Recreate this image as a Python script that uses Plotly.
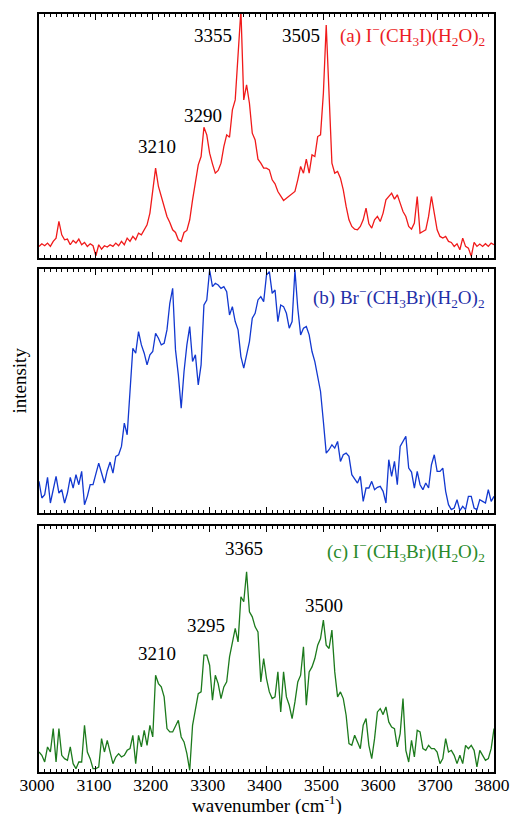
import plotly.graph_objects as go

wavenumber = list(range(3000, 3801, 5))

# (a) I-(CH3I)(H2O)2  intensity, arbitrary units
int_a = [35, 43, 37, 45, 35, 50, 60, 110, 70, 55, 57, 40, 53, 45, 57, 40, 47, 35, 43, 37,
         7, 40, 27, 37, 33, 40, 35, 45, 37, 50, 40, 60, 50, 65, 55, 75, 70, 85, 100, 135,
         195, 270, 215, 185, 155, 125, 107, 85, 77, 55, 50, 77, 83, 115, 175, 230, 280, 305, 393, 370,
         315, 283, 255, 263, 285, 335, 370, 363, 445, 475, 625, 745, 475, 520, 465, 375, 355, 297, 285, 270,
         270, 265, 235, 223, 200, 185, 173, 180, 187, 193, 200, 235, 275, 255, 297, 255, 310, 305, 365, 370,
         495, 700, 485, 285, 255, 260, 240, 205, 155, 115, 95, 87, 85, 95, 115, 150, 103, 90, 115, 125,
         110, 135, 175, 185, 195, 177, 190, 165, 140, 125, 95, 87, 105, 185, 75, 80, 85, 125, 185, 135,
         85, 65, 60, 65, 50, 47, 35, 43, 25, 60, 35, 30, 5, 47, 35, 42, 35, 43, 35, 45,
         40]

# (b) Br-(CH3Br)(H2O)2
int_b = [95, 45, 55, 107, 30, 75, 110, 60, 70, 30, 60, 107, 75, 115, 85, 125, 25, 50, 85, 85,
         115, 150, 120, 90, 127, 153, 120, 170, 175, 200, 270, 235, 365, 495, 480, 545, 505, 480, 445, 475,
         485, 540, 525, 505, 510, 550, 630, 675, 490, 415, 315, 425, 505, 560, 455, 475, 385, 445, 625, 640,
         730, 680, 690, 685, 675, 680, 665, 595, 620, 575, 550, 470, 435, 475, 515, 585, 600, 640, 650, 635,
         715, 725, 660, 670, 575, 625, 620, 600, 555, 575, 730, 615, 535, 555, 560, 535, 485, 455, 410, 365,
         275, 180, 190, 205, 195, 215, 155, 175, 180, 170, 115, 103, 90, 110, 35, 75, 75, 95, 70, 77,
         80, 65, 30, 160, 110, 155, 85, 200, 215, 230, 135, 123, 75, 125, 85, 70, 90, 75, 145, 175,
         125, 125, 135, 65, 25, 10, 15, 40, 7, 20, 10, 50, 50, 15, 10, 40, 35, 30, 70, 35,
         50]

# (c) I-(CH3Br)(H2O)2
int_c = [60, 50, 30, 75, 60, 130, 30, 130, 50, 40, 35, 75, 25, 10, 30, 30, 140, 60, 40, 10,
         10, 15, 100, 60, 95, 55, 25, 45, 55, 45, 50, 65, 70, 110, 25, 110, 75, 125, 80, 140,
         105, 290, 265, 255, 225, 130, 120, 120, 140, 155, 105, 90, 55, 5, 140, 192, 235, 240, 350, 350,
         320, 215, 290, 265, 220, 255, 270, 345, 390, 430, 390, 525, 510, 600, 480, 465, 435, 420, 270, 340,
         280, 240, 220, 225, 300, 180, 300, 225, 200, 160, 210, 270, 290, 375, 200, 300, 315, 340, 380, 400,
         455, 380, 370, 425, 300, 225, 240, 220, 170, 85, 80, 110, 90, 70, 140, 160, 80, 40, 100, 180,
         190, 172, 195, 150, 135, 130, 75, 115, 220, 65, 30, 95, 45, 125, 120, 70, 65, 80, 70, 70,
         60, 25, 40, 100, 60, 65, 50, 25, 50, 25, 80, 70, 80, 65, 15, 65, 50, 35, 40, 70,
         130]

peak_labels_a = ["3210", "3290", "3355", "3505"]
peak_pos_a = [(3207, 335), (3289, 427), (3306, 667), (3461, 667)]
peak_labels_c = ["3210", "3295", "3365", "3500"]
peak_pos_c = [(3207, 355), (3293, 440), (3360, 670), (3501, 500)]

series_names = ["(a) I<sup>−</sup>(CH<sub>3</sub>I)(H<sub>2</sub>O)<sub>2</sub>",
                "(b) Br<sup>−</sup>(CH<sub>3</sub>Br)(H<sub>2</sub>O)<sub>2</sub>",
                "(c) I<sup>−</sup>(CH<sub>3</sub>Br)(H<sub>2</sub>O)<sub>2</sub>"]
line_colors = ["#f01a1a", "#1238d0", "#1c7a1c"]
label_colors = ["#ec1c24", "#1f2fa8", "#2a8a2a"]
y_max = [733, 733, 737]
name_y = [667, 647, 662]

FONT = "Liberation Serif, Times New Roman, serif"

fig = go.Figure()
series = [int_a, int_b, int_c]
domains = [[0.678, 1.0], [0.3417, 0.6636], [0.0, 0.3245]]

for i in range(3):
    n = "" if i == 0 else str(i + 1)
    fig.add_trace(go.Scatter(x=wavenumber, y=series[i], mode="lines",
                             line=dict(color=line_colors[i], width=1.3),
                             xaxis="x" + n, yaxis="y" + n, showlegend=False,
                             hoverinfo="skip"))
    fig.update_layout(**{
        "xaxis" + n: dict(domain=[0, 1], anchor="y" + n, range=[3000, 3800],
                          showline=True, linecolor="black", linewidth=1.6, mirror="allticks",
                          ticks="inside", ticklen=6, tickwidth=1.2, tickcolor="black",
                          dtick=100, tick0=3000, showgrid=False, zeroline=False,
                          showticklabels=(i == 2), automargin=False,
                          ticklabeloverflow="allow", ticklabelshift=-2,
                          ticklabelstandoff=-4,
                          tickfont=dict(family=FONT, size=17.5, color="black"),
                          minor=dict(ticks="inside", dtick=10, ticklen=3, tickwidth=1,
                                     tickcolor="black", showgrid=False)),
        "yaxis" + n: dict(domain=domains[i], anchor="x" + n, range=[0, y_max[i]],
                          showline=True, linecolor="black", linewidth=1.6, mirror=True,
                          ticks="", showticklabels=False, showgrid=False, zeroline=False,
                          automargin=False),
    })
    fig.add_annotation(x=3788, y=name_y[i], xref="x" + n, yref="y" + n,
                       text=series_names[i], showarrow=False, xanchor="right",
                       yanchor="middle",
                       font=dict(family=FONT, size=19, color=label_colors[i]))

for lab, (px, py) in zip(peak_labels_a, peak_pos_a):
    fig.add_annotation(x=px, y=py, xref="x", yref="y", text=lab, showarrow=False,
                       font=dict(family=FONT, size=19, color="black"))
for lab, (px, py) in zip(peak_labels_c, peak_pos_c):
    fig.add_annotation(x=px, y=py, xref="x3", yref="y3", text=lab, showarrow=False,
                       font=dict(family=FONT, size=19, color="black"))

fig.add_annotation(x=0.5, y=-0.043, xref="paper", yref="paper", yanchor="middle",
                   text="wavenumber (cm<sup>-1</sup>)", showarrow=False,
                   font=dict(family=FONT, size=19, color="black"))
fig.add_annotation(x=-0.043, y=0.517, xref="paper", yref="paper", textangle=-90,
                   text="intensity", showarrow=False, xanchor="center", yanchor="middle",
                   font=dict(family=FONT, size=19, color="black"))

fig.update_layout(width=512, height=814, margin=dict(l=39, r=18, t=14, b=42, autoexpand=False),
                  plot_bgcolor="white", paper_bgcolor="white", hovermode=False)
# remove the page's default body margin so the figure fills the 512x814 window exactly
fig.write_html("out.html", config={"displayModeBar": False},
               post_script="document.body.style.margin='0';document.body.style.overflow='hidden';")
